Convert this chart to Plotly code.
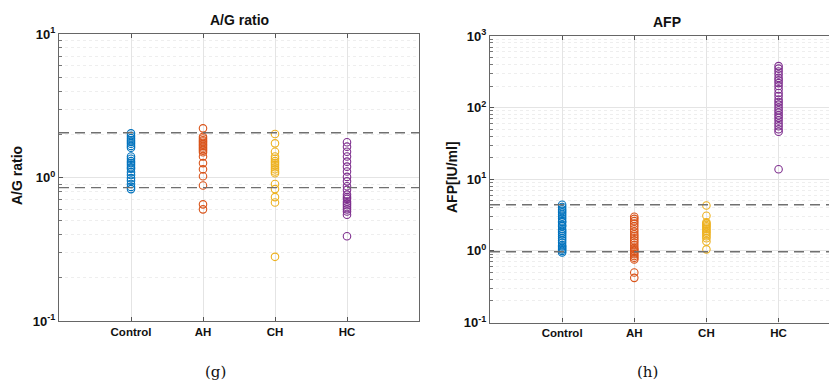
import plotly.graph_objects as go

categories = ["Control", "AH", "CH", "HC"]
colors = ["#0072BD", "#D95319", "#EDB120", "#7E2F8E"]

# A/G ratio values per group
ag_control = [2.03, 1.95, 1.88, 1.82, 1.77, 1.72, 1.66, 1.61, 1.40, 1.35, 1.30, 1.26,
              1.22, 1.18, 1.15, 1.09, 1.04, 0.99, 0.95, 0.90, 0.86, 0.83]
ag_ah = [2.20, 1.92, 1.87, 1.82, 1.78, 1.74, 1.70, 1.66, 1.62, 1.58, 1.54, 1.50,
         1.40, 1.26, 1.14, 1.02, 0.88, 0.65, 0.60]
ag_ch = [2.01, 1.73, 1.51, 1.40, 1.35, 1.30, 1.26, 1.22, 1.18, 1.14, 1.10, 1.07,
         0.90, 0.83, 0.73, 0.67, 0.28]
ag_hc = [1.76, 1.64, 1.51, 1.40, 1.29, 1.19, 1.10, 1.01, 0.94, 0.87, 0.82, 0.76,
         0.73, 0.71, 0.68, 0.66, 0.64, 0.62, 0.60, 0.58, 0.55, 0.39]
ag_limits = [2.05, 0.85]

# AFP values per group [IU/ml]
afp_control = [4.4, 4.1, 3.8, 3.6, 3.4, 3.2, 3.0, 2.8, 2.6, 2.5, 2.3, 2.2, 2.0, 1.9,
               1.8, 1.7, 1.6, 1.5, 1.4, 1.3, 1.2, 1.15, 1.1, 1.05, 1.0, 0.95]
afp_ah = [3.0, 2.8, 2.6, 2.4, 2.2, 2.0, 1.85, 1.7, 1.6, 1.5, 1.4, 1.3, 1.2, 1.1,
          1.05, 1.0, 0.95, 0.9, 0.85, 0.8, 0.76, 0.5, 0.42]
afp_ch = [4.3, 3.1, 2.5, 2.4, 2.3, 2.2, 2.1, 2.0, 1.9, 1.8, 1.7, 1.6, 1.5, 1.35, 1.05]
afp_hc = [380, 350, 320, 290, 260, 240, 220, 200, 180, 160, 145, 130, 120, 110, 100,
          92, 85, 78, 72, 66, 60, 55, 50, 46, 13.8]
afp_limits = [4.4, 0.97]

ag_ticks = [0.1, 1, 10]
ag_ticktext = ["10<sup>-1</sup>", "10<sup>0</sup>", "10<sup>1</sup>"]
afp_ticks = [0.1, 1, 10, 100, 1000]
afp_ticktext = ["10<sup>-1</sup>", "10<sup>0</sup>", "10<sup>1</sup>", "10<sup>2</sup>", "10<sup>3</sup>"]

W, H = 837, 385
OFF = 8  # page body margin offset of the rendered figure


def px(q):
    return (q - OFF) / W


def py(q):
    return 1 - (q - OFF) / H


fig = go.Figure()

ag_groups = [ag_control, ag_ah, ag_ch, ag_hc]
afp_groups = [afp_control, afp_ah, afp_ch, afp_hc]

for i, vals in enumerate(ag_groups):
    fig.add_trace(go.Scatter(
        x=[i + 1] * len(vals), y=vals, mode="markers",
        marker=dict(symbol="circle-open", size=7.5, color=colors[i], line=dict(width=1.1)),
        xaxis="x", yaxis="y", showlegend=False))
for i, vals in enumerate(afp_groups):
    fig.add_trace(go.Scatter(
        x=[i + 1] * len(vals), y=vals, mode="markers",
        marker=dict(symbol="circle-open", size=7.5, color=colors[i], line=dict(width=1.1)),
        xaxis="x2", yaxis="y2", showlegend=False))

dash_style = dict(color="#707070", width=1.4, dash="10px,6px")
for v in ag_limits:
    fig.add_shape(type="line", xref="x domain", yref="y", x0=0, x1=1, y0=v, y1=v,
                  line=dash_style, layer="above")
for v in afp_limits:
    fig.add_shape(type="line", xref="x2 domain", yref="y2", x0=0, x1=1, y0=v, y1=v,
                  line=dash_style, layer="above")

tickfont = dict(family="Liberation Sans, Arial, sans-serif", size=13, color="#111", weight="bold")
xtickfont = dict(family="Liberation Sans, Arial, sans-serif", size=11.5, color="#111", weight="bold")
grid_c = "#e4e4e4"


def minor_vals(lo, hi):
    return [m * 10.0 ** e for e in range(lo, hi) for m in range(2, 10)]


def minor(lo, hi):
    return dict(tickvals=minor_vals(lo, hi), ticks="inside", ticklen=3, tickcolor="#777",
                showgrid=True, gridcolor="#eeeeee", griddash="dot", gridwidth=1)


def xaxis(domain, rng):
    return dict(domain=domain, range=rng, tickvals=[1, 2, 3, 4], ticktext=categories,
                tickfont=xtickfont, showgrid=True, gridcolor=grid_c, gridwidth=1,
                ticks="inside", ticklen=4, tickcolor="#555", showline=True,
                linecolor="#666", linewidth=1.2, mirror="ticks", zeroline=False,
                automargin=False)


def yaxis(domain, rng, tv, tt, anchor):
    return dict(domain=domain, type="log", range=rng, tickvals=tv, ticktext=tt,
                tickfont=tickfont, showgrid=True, gridcolor=grid_c, gridwidth=1,
                ticks="inside", ticklen=4, tickcolor="#555", showline=True,
                linecolor="#666", linewidth=1.2, mirror=True, zeroline=False,
                anchor=anchor, minor=minor(rng[0], rng[1]), automargin=False)


fig.update_layout(
    width=W, height=H, margin=dict(l=0, r=0, t=0, b=0, autoexpand=False),
    paper_bgcolor="white", plot_bgcolor="white",
    xaxis=xaxis([px(59), px(419)], [0, 5]) | dict(anchor="y"),
    yaxis=yaxis([py(321), py(34)], [-1, 1], ag_ticks, ag_ticktext, "x"),
    xaxis2=xaxis([px(490), px(837)], [0, 4.81]) | dict(anchor="y2"),
    yaxis2=yaxis([py(322.5), py(36)], [-1, 3], afp_ticks, afp_ticktext, "x2"),
)

title_font = dict(family="Liberation Sans, Arial, sans-serif", size=14, color="#111", weight="bold")
ann = [
    dict(text="A/G ratio", x=px(239), y=py(20), font=title_font),
    dict(text="AFP", x=px(667), y=py(22), font=title_font),
    dict(text="A/G ratio", x=px(17), y=py(176), font=title_font, textangle=-90),
    dict(text="AFP[IU/ml]", x=px(452), y=py(177), font=title_font, textangle=-90),
    dict(text="(g)", x=px(215), y=py(372),
         font=dict(family="DejaVu Serif, serif", size=15, color="#111")),
    dict(text="(h)", x=px(647), y=py(372),
         font=dict(family="DejaVu Serif, serif", size=15, color="#111")),
]
for a in ann:
    fig.add_annotation(xref="paper", yref="paper", showarrow=False,
                       xanchor="center", yanchor="middle", **a)

fig.write_html("out.html")
